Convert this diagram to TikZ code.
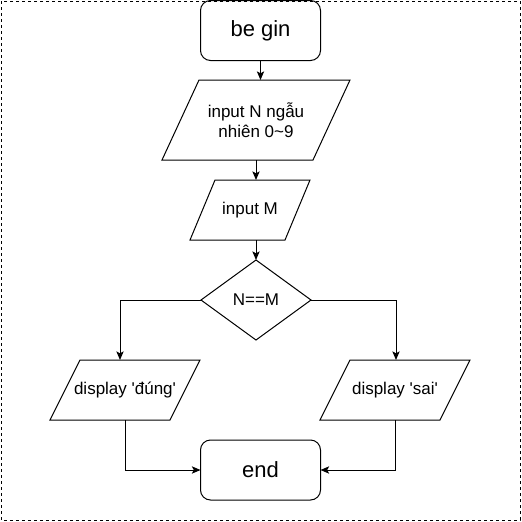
\documentclass[tikz,border=0pt]{standalone}
\usepackage{fontspec}
\setmainfont{Liberation Sans}
\usetikzlibrary{shapes.geometric,arrows.meta}

\begin{document}
\begin{tikzpicture}[
        %We set the scale and define some styles
        x=0.75pt, y=-0.75pt,
        every node/.style={color=black, inner sep=0pt, outer sep=0pt},
        big text/.style={font=\fontsize{16.5}{19}\selectfont},
        small text/.style={font=\fontsize{12.75}{15}\selectfont},
        terminal box/.style={draw, line width=0.75pt, rounded corners=7.5pt,
            minimum width=90pt, minimum height=45pt, big text},
        io box/.style={rectangle, align=center, small text},
        io line/.style={line width=0.75pt},
        decision box/.style={draw, line width=0.75pt, diamond, aspect=1.375,
            minimum width=82.5pt, minimum height=60pt, small text},
        flow line/.style={line width=0.75pt, -{Stealth[length=6.5pt,width=5.5pt,inset=1.5pt]}},
        frame line/.style={line width=0.75pt, dash pattern=on 2.25pt off 2.25pt}
]
\useasboundingbox (0,0) rectangle (522,522);
% frame
\draw[frame line] (1,1) rectangle (520,520);

% boxes of the flow chart
\node[terminal box] (begin) at (260.5,30.5) {be gin};
\node[io box, minimum width=141pt, minimum height=60pt] (inputN) at (256,120)
      {input N ngẫu\\ nhiên 0\textasciitilde9};
\node[io box, minimum width=90pt, minimum height=45pt] (inputM) at (250,210) {input M};
\node[decision box] (check) at (256,300) {N==M};
\node[io box, minimum width=112.5pt, minimum height=45pt] (right) at (125,390)
      {display \textquotesingle đúng\textquotesingle};
\node[io box, minimum width=112.5pt, minimum height=45pt] (wrong) at (395,390)
      {display \textquotesingle sai\textquotesingle};
\node[terminal box, minimum height=45pt] (end) at (260.5,470) {end};

% parallelogram outlines of the input/output boxes
\foreach \n/\s in {inputN/27.75pt, inputM/18.75pt, right/22.5pt, wrong/22.5pt}
    \draw[io line] (\n.south west) -- ([xshift=\s]\n.north west)
        -- (\n.north east) -- ([xshift=-\s]\n.south east) -- cycle;

% connectors
\draw[flow line] (begin.south) -- (begin.south |- inputN.north);
\draw[flow line] (inputN.south) -- (inputN.south |- inputM.north);
\draw[flow line] (check.north |- inputM.south) -- (check.north);
\draw[flow line] (check.west) -| ([xshift=-3.75pt]right.north);
\draw[flow line] (check.east) -| ([xshift=0.75pt]wrong.north);
\draw[flow line] (right.south) |- (end.west);
\draw[flow line] (wrong.south) |- (end.east);
\end{tikzpicture}
\end{document}
